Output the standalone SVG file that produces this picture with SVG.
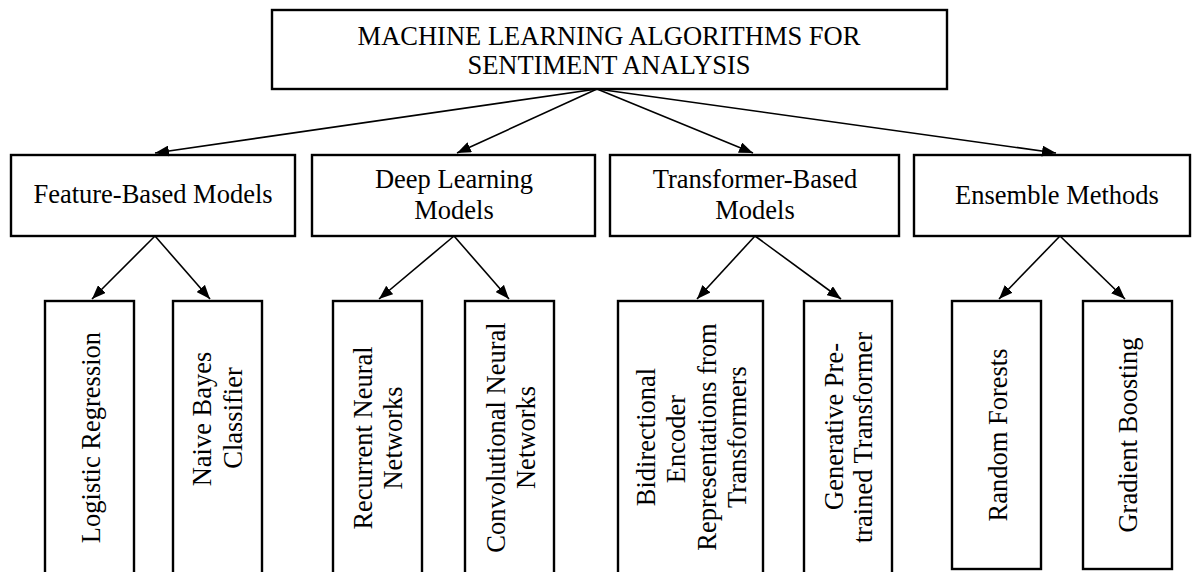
<svg xmlns="http://www.w3.org/2000/svg" width="1192" height="572" viewBox="0 0 1192 572">
  <style>
    .box { fill: #ffffff; stroke: #000000; stroke-width: 2.4; }
    .lbl { font-family: "Liberation Serif", "Times New Roman", serif; font-size: 26.5px; fill: #000000; text-anchor: middle; }
    .conn { stroke: #000000; stroke-width: 1.6; fill: none; marker-end: url(#arrow); }
  </style>
  <defs>
    <marker id="arrow" markerUnits="userSpaceOnUse" markerWidth="14" markerHeight="11" refX="14" refY="5.5" orient="auto">
      <path d="M0,0 L14,5.5 L0,11 Z" fill="#000000"/>
    </marker>
  </defs>
  <rect width="1192" height="572" fill="#ffffff"/>

  <!-- root -->
  <g id="root">
    <rect class="box" x="272" y="10" width="675" height="79"/>
    <text class="lbl" x="609" y="45">MACHINE LEARNING ALGORITHMS FOR</text>
    <text class="lbl" x="609" y="74">SENTIMENT ANALYSIS</text>
  </g>

  <!-- categories -->
  <g id="feature-based">
    <rect class="box" x="11" y="155" width="284" height="81"/>
    <text class="lbl" x="153" y="203">Feature-Based Models</text>
  </g>
  <g id="deep-learning">
    <rect class="box" x="312" y="155" width="283" height="81"/>
    <text class="lbl" x="454" y="188">Deep Learning</text>
    <text class="lbl" x="454" y="219">Models</text>
  </g>
  <g id="transformer-based">
    <rect class="box" x="610" y="155" width="289" height="81"/>
    <text class="lbl" x="755" y="188">Transformer-Based</text>
    <text class="lbl" x="755" y="219">Models</text>
  </g>
  <g id="ensemble">
    <rect class="box" x="914" y="155" width="276" height="81"/>
    <text class="lbl" x="1057" y="204">Ensemble Methods</text>
  </g>

  <!-- leaf methods (vertical labels) -->
  <g id="logistic-regression">
    <rect class="box" x="45" y="301" width="89" height="290"/>
    <text class="lbl" transform="translate(99.5,437.5) rotate(-90)">Logistic Regression</text>
  </g>
  <g id="naive-bayes">
    <rect class="box" x="173" y="301" width="89" height="290"/>
    <text class="lbl" transform="translate(211,419) rotate(-90)">Naive Bayes</text>
    <text class="lbl" transform="translate(242,418) rotate(-90)">Classifier</text>
  </g>
  <g id="rnn">
    <rect class="box" x="333" y="301" width="89" height="290"/>
    <text class="lbl" transform="translate(372,438) rotate(-90)">Recurrent Neural</text>
    <text class="lbl" transform="translate(402,438) rotate(-90)">Networks</text>
  </g>
  <g id="cnn">
    <rect class="box" x="465" y="301" width="89" height="290"/>
    <text class="lbl" transform="translate(505,437.5) rotate(-90)">Convolutional Neural</text>
    <text class="lbl" transform="translate(535,437.5) rotate(-90)">Networks</text>
  </g>
  <g id="bert">
    <rect class="box" x="618" y="301" width="145" height="290"/>
    <text class="lbl" transform="translate(654.5,437) rotate(-90)">Bidirectional</text>
    <text class="lbl" transform="translate(685,439) rotate(-90)">Encoder</text>
    <text class="lbl" transform="translate(715.5,437) rotate(-90)">Representations from</text>
    <text class="lbl" transform="translate(746,437) rotate(-90)">Transformers</text>
  </g>
  <g id="gpt">
    <rect class="box" x="804" y="301" width="88" height="290"/>
    <text class="lbl" transform="translate(842.5,426.5) rotate(-90)">Generative Pre-</text>
    <text class="lbl" transform="translate(872,437.5) rotate(-90)">trained Transformer</text>
  </g>
  <g id="random-forests">
    <rect class="box" x="952" y="301" width="89" height="268"/>
    <text class="lbl" transform="translate(1007,435) rotate(-90)">Random Forests</text>
  </g>
  <g id="gradient-boosting">
    <rect class="box" x="1083" y="301" width="89" height="268"/>
    <text class="lbl" transform="translate(1137,435) rotate(-90)">Gradient Boosting</text>
  </g>

  <!-- connectors -->
  <g id="connectors">
    <line class="conn" x1="597" y1="89" x2="155" y2="153"/>
    <line class="conn" x1="597" y1="89" x2="457" y2="153"/>
    <line class="conn" x1="597" y1="89" x2="753" y2="153"/>
    <line class="conn" x1="597" y1="89" x2="1056" y2="153"/>

    <line class="conn" x1="155" y1="236" x2="92" y2="299"/>
    <line class="conn" x1="155" y1="236" x2="210" y2="299"/>
    <line class="conn" x1="454" y1="236" x2="379" y2="299"/>
    <line class="conn" x1="454" y1="236" x2="509" y2="299"/>
    <line class="conn" x1="755" y1="236" x2="697" y2="299"/>
    <line class="conn" x1="755" y1="236" x2="841" y2="299"/>
    <line class="conn" x1="1060" y1="236" x2="999" y2="299"/>
    <line class="conn" x1="1060" y1="236" x2="1125" y2="299"/>
  </g>
</svg>
